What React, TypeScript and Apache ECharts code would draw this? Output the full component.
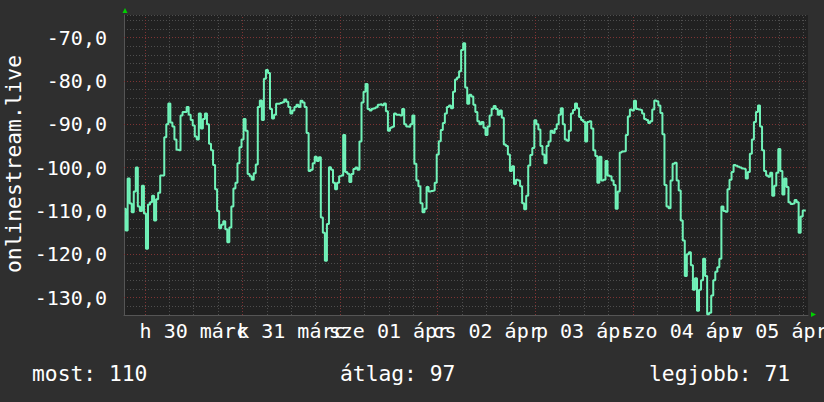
import React, { useEffect, useRef } from "react";
import * as echarts from "echarts";

// Time axis in hours, counted from Monday 30 March 00:00; one sample every 30 minutes.
const startHour = -5;
const stepHours = 0.5;
const values: number[] = [
  -109.5, -114.5, -102.5, -108.3, -110.3, -105.5, -100, -109, -110, -104.2,
  -110.6, -118.7, -108.5, -108, -106.5, -112.2, -107.3, -105.8, -101.8, -101.8,
  -93, -90, -85.2, -89.6, -90.5, -93.5, -95.9, -96, -88, -87.2,
  -87.2, -86, -87.8, -89, -90.3, -92.8, -93.5, -87.5, -91, -88.8,
  -87.5, -90, -94.5, -96, -99.4, -105, -110, -114, -113.2, -112.4,
  -114.2, -117.2, -113.8, -109, -104.8, -103.5, -99, -95.3, -93.5, -88.8,
  -91.5, -101.5, -102, -102.8, -101.3, -99.3, -86, -84.5, -89, -79.5,
  -77.5, -78.2, -86.5, -88.7, -87.8, -85.3, -85.3, -85.1, -84.9, -84.3,
  -84.8, -86, -87.5, -86.8, -86, -85.5, -86, -84.6, -85, -86,
  -92, -100.8, -100.5, -99, -97.5, -98.5, -97.6, -111.5, -115, -121.5,
  -113, -99.9, -100.5, -103.5, -105, -103.5, -102, -101.8, -92.5, -101,
  -101.4, -103.3, -101.5, -100.3, -100, -100.5, -94, -85, -82.5, -80.7,
  -86.5, -86.8, -86.4, -86.3, -86.1, -85.5, -85.4, -85.6, -85.2, -87,
  -91.5, -90.8, -90.6, -87.5, -87.8, -87.8, -88, -86.5, -90, -90.5,
  -90.6, -90, -88, -99.1, -103, -104.3, -108.2, -110.3, -109.5, -104.5,
  -105.5, -105.4, -105.3, -103.5, -97, -93.9, -91.3, -89.7, -87.5, -86,
  -85.7, -86.3, -82.5, -79.7, -79.2, -77.8, -72.9, -71.3, -81.5, -85.3,
  -83.2, -83.6, -85.5, -87.2, -89.3, -90, -89.5, -90.8, -92.5, -90.5,
  -88, -86.4, -85.8, -86.5, -87.8, -86.8, -88.5, -94.7, -95, -97,
  -100.8, -99.7, -103.8, -102.8, -103, -104.3, -108.2, -109.6, -106.5, -99.5,
  -97.1, -95.5, -89.1, -90, -91.2, -95, -97, -99, -95, -94,
  -91.5, -92, -91.1, -90, -87.8, -86.3, -90, -93.5, -93.8, -91.5,
  -87.5, -86.7, -85.2, -86.3, -88.3, -89, -89.4, -94, -89.5, -89.3,
  -91, -96, -97.3, -103.5, -97.5, -103, -102.8, -98.5, -101.8, -102,
  -103, -104, -109.5, -105.5, -96.5, -96.3, -96.2, -92.5, -88.2, -86.6,
  -86.8, -84.6, -86.5, -86.6, -86.7, -87.5, -88.8, -89, -89.7, -89.3,
  -86.6, -84.5, -84.7, -85.7, -87.4, -92.3, -104, -109, -109.4, -103,
  -99.1, -98.9, -103, -105.3, -112.2, -116.8, -125, -120, -119.5, -122.5,
  -128.2, -125.5, -133, -128.2, -126, -121, -125, -133.8, -133.5, -129.5,
  -126, -124, -123, -121, -109, -110, -110.2, -105, -102.8, -101,
  -99.4, -99.6, -99.8, -100, -100.2, -100.3, -102.5, -101, -96.8, -93.5,
  -89.5, -87.2, -85.7, -90.5, -96, -100.8, -101.8, -102.1, -101.2, -106.5,
  -104.2, -101.2, -95.7, -100.8, -106.2, -102.5, -104.5, -108, -108.4, -108.3,
  -107.5, -108, -115, -111.3, -109.9, -109.9,
];

const dayLabels = ["h 30 márc", "k 31 márc", "sze 01 ápr", "cs 02 ápr", "p 03 ápr", "szo 04 ápr", "v 05 ápr"];
const dayLabelHours = [12, 36, 60, 84, 108, 132, 156];
const dayStartHours = [0, 24, 48, 72, 96, 120, 144];
const sixHourTicks = [0, 6, 12, 18, 24, 30, 36, 42, 48, 54, 60, 66, 72, 78, 84, 90, 96, 102, 108, 114, 120, 126, 132, 138, 144, 150, 156, 162];
const yMajorTicks = [-130, -120, -110, -100, -90, -80, -70];
const yAxisTitle = "onlinestream.live";
const statLabels = ["most", "átlag", "legjobb"];
const statValues = [110, 97, 71];

const X_MIN = -5.15;
const X_MAX = 163.05;
const Y_MIN = -134;
const Y_MAX = -64.8;

const FONT = "DejaVu Sans Mono";
const LINE_COLOR = "#70f2b8";
const GRID_GRAY = "#4e4e4e";
const GRID_RED = "#7e3434";

export default function App() {
  const ref = useRef<HTMLDivElement>(null);

  useEffect(() => {
    document.body.style.margin = "0";
    const chart = echarts.init(ref.current!, undefined, { renderer: "svg" });
    const seriesData = values.map((v, i) => [startHour + i * stepHours, v]);

    const gridLines = (xs: number[], ys: number[], color: string, z: number) => ({
      type: "line",
      data: [],
      silent: true,
      z,
      markLine: {
        silent: true,
        animation: false,
        symbol: ["none", "none"],
        label: { show: false },
        emphasis: { disabled: true },
        lineStyle: { color, type: [1, 2], width: 1 },
        data: [...xs.map((h) => ({ xAxis: h })), ...ys.map((v) => ({ yAxis: v }))],
      },
    });

    const statX = [32, 340, 649];

    chart.setOption({
      animation: false,
      backgroundColor: "#2f2f2f",
      grid: {
        left: 124,
        right: 16,
        top: 15,
        height: 300,
        show: true,
        backgroundColor: "#212121",
        borderWidth: 0,
        containLabel: false,
        outerBoundsMode: "none",
      },
      xAxis: {
        type: "value",
        min: X_MIN,
        max: X_MAX,
        splitLine: { show: false },
        axisTick: { show: false },
        axisLabel: { show: false },
        axisLine: { show: true, onZero: false, lineStyle: { color: "#555555", width: 1 } },
      },
      yAxis: {
        type: "value",
        min: Y_MIN,
        max: Y_MAX,
        interval: 2,
        axisLine: { show: true, onZero: false, lineStyle: { color: "#555555", width: 1 } },
        axisTick: { show: false },
        splitLine: { show: true, lineStyle: { color: GRID_GRAY, type: [1, 2], width: 1 } },
        axisLabel: {
          color: "#ffffff",
          fontFamily: FONT,
          fontSize: 20,
          margin: 17,
          formatter: (v: number) => {
            const r = Math.round(v);
            if (Math.abs(v - r) > 1e-6 || r % 10 !== 0) return "";
            return r.toFixed(1).replace(".", ",");
          },
        },
      },
      series: [
        gridLines(sixHourTicks, [], GRID_GRAY, 1),
        gridLines(dayStartHours, yMajorTicks, GRID_RED, 2),
        {
          type: "line",
          data: seriesData,
          step: "middle",
          showSymbol: false,
          symbol: "none",
          z: 5,
          lineStyle: { color: LINE_COLOR, width: 2 },
          emphasis: { disabled: true },
        },
        {
          type: "custom",
          silent: true,
          clip: false,
          z: 6,
          data: dayLabelHours.map((h) => [h, Y_MIN]),
          renderItem: (params: any, api: any) => {
            const p = api.coord([api.value(0), api.value(1)]);
            return {
              type: "text",
              x: p[0],
              y: p[1] + 6,
              style: {
                text: dayLabels[params.dataIndex],
                fill: "#ffffff",
                font: `20px "${FONT}"`,
                align: "center",
                verticalAlign: "top",
              },
            };
          },
        },
      ],
      graphic: [
        {
          type: "text",
          x: 13,
          y: 164,
          rotation: Math.PI / 2,
          style: {
            text: yAxisTitle,
            fill: "#ffffff",
            font: `21.3px "${FONT}"`,
            align: "center",
            verticalAlign: "middle",
          },
        },
        ...statLabels.map((lab, i) => ({
          type: "text",
          x: statX[i],
          y: 373,
          style: {
            text: `${lab}: ${statValues[i]}`,
            fill: "#ffffff",
            font: `21.3px "${FONT}"`,
            align: "left",
            verticalAlign: "middle",
          },
        })),
        {
          type: "polygon",
          shape: { points: [[122.5, 13], [127.5, 13], [125, 8]] },
          style: { fill: "#00d000" },
        },
        {
          type: "polygon",
          shape: { points: [[811, 312], [811, 317], [816, 314.5]] },
          style: { fill: "#00d000" },
        },
      ],
    });

    return () => chart.dispose();
  }, []);

  return (
    <div
      ref={ref}
      style={{ position: "absolute", left: 0, top: 0, width: 824, height: 402 }}
    />
  );
}
